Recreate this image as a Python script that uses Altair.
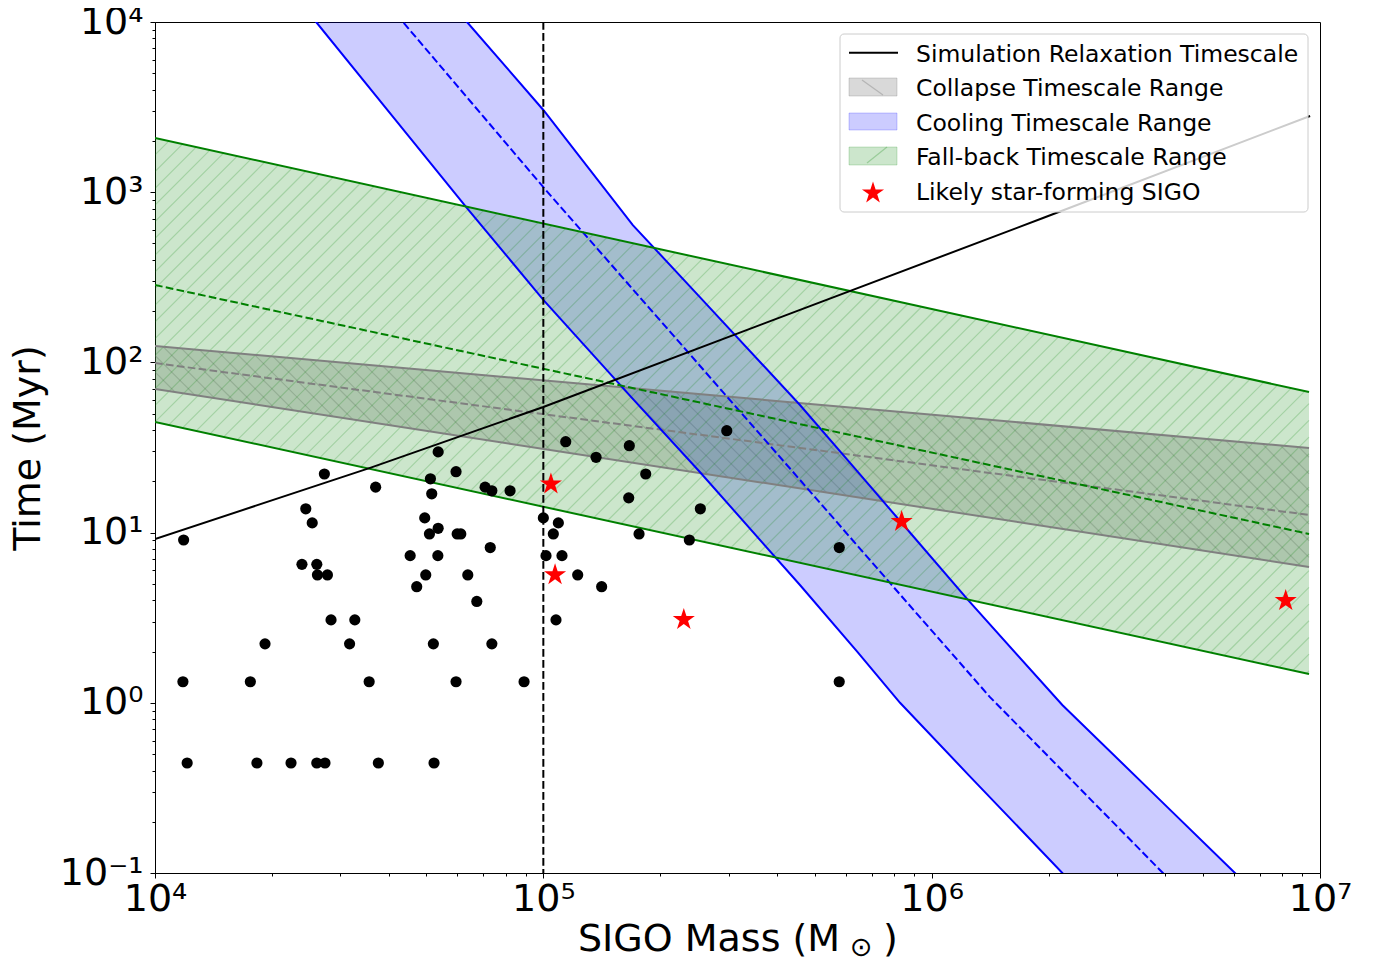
import altair as alt
import numpy as np
import pandas as pd

# ---------------- values ----------------
RELAX_MASS = [1.0e4, 3.58e4, 1.0e5, 1.935e6, 9.43e6]
RELAX_TIME = [9.16, 24.0, 54.7, 705.0, 2805.0]

COLLAPSE_MASS = [1.0e4, 9.37e6]
COLLAPSE_HIGH = [124.8, 31.4]
COLLAPSE_MID = [99.1, 12.7]
COLLAPSE_LOW = [69.8, 6.28]

FALLBACK_MASS = [1.0e4, 9.37e6]
FALLBACK_HIGH = [2080.0, 67.0]
FALLBACK_MID = [285.0, 9.82]
FALLBACK_LOW = [44.7, 1.476]

COOLING_MASS = [1.0e4, 2.6e4, 4.35e4, 6.36e4, 1.0e5, 1.70e5, 2.53e5, 4.58e5,
                6.43e5, 8.29e5, 1.24e6, 2.17e6, 3.87e6, 6.04e6, 9.43e6]
COOLING_LOW = [1.455e5, 1.0e4, 2350.0, 807.0, 233.0, 61.0, 22.7, 4.92,
               2.00, 1.00, 0.380, 0.1, 0.0232, 0.00766, 0.00249]
COOLING_HIGH = [1.396e6, 1.096e5, 27610.0, 1.0e4, 3041.0, 641.0, 242.0, 56.2,
                23.0, 11.7, 4.02, 0.971, 0.269, 0.1, 0.0372]
COOLING_MID_MASS = [1.0e4, 4.35e4, 1.004e5, 4.58e5, 7.81e5, 1.413e6, 3.94e6, 9.43e6]
COOLING_MID = [5.26e5, 1.0e4, 1059.0, 20.4, 5.06, 1.08, 0.1, 0.01315]

SIGO_MASS = [12100, 18300, 22400, 26100, 27400, 37600, 52300,
             11800, 17600, 35600, 59600, 89200, 578000,
             19200, 31700, 52100, 73700,
             28400, 32700, 107800,
             11850, 47200, 67400, 141300, 27300, 24450, 25400,
             23900, 26100, 26200, 27800,
             53600, 59600, 51200, 37000, 51600, 70800, 73700, 82100,
             100000, 49500, 53600, 50900, 60000, 61300, 73000, 45400, 53500, 101600, 49800, 63900,
             114200, 166500, 136700, 296700, 183500, 165900, 253700, 109300, 106100, 176400,
             237700, 111700, 122600,
             578200]
SIGO_TIME = [0.443, 0.443, 0.443, 0.443, 0.443, 0.443, 0.443,
             1.33, 1.33, 1.33, 1.33, 1.33, 1.33,
             2.22, 2.22, 2.22, 2.22,
             3.07, 3.07, 3.07,
             9.05, 4.81, 3.94, 4.81, 22.1, 13.8, 11.4,
             6.51, 6.51, 5.64, 5.64,
             29.8, 22.8, 20.7, 18.5, 16.9, 18.5, 17.6, 17.6,
             12.2, 12.2, 10.6, 9.82, 9.82, 9.82, 8.17, 7.32, 7.32, 7.32, 5.64, 5.64,
             34.2, 32.4, 27.7, 39.7, 22.1, 16.0, 13.8, 11.4, 9.82, 9.82,
             9.05, 7.32, 5.64,
             8.17]

STAR_MASS = [1.046e5, 1.072e5, 2.30e5, 8.37e5, 8.16e6]
STAR_TIME = [19.3, 5.64, 3.08, 11.6, 3.98]

VLINE_MASS = [1.0e5]

X_MAJOR = [1e4, 1e5, 1e6, 1e7]
X_LABELS = ["10⁴", "10⁵", "10⁶", "10⁷"]
Y_MAJOR = [0.1, 1.0, 10.0, 100.0, 1000.0, 10000.0]
Y_LABELS = ["10⁻¹", "10⁰", "10¹", "10²", "10³", "10⁴"]

LEGEND_LABELS = ["Simulation Relaxation Timescale", "Collapse Timescale Range",
                 "Cooling Timescale Range", "Fall-back Timescale Range",
                 "Likely star-forming SIGO"]
X_TITLE = ["SIGO Mass (M", "⊙", ")"]
Y_TITLE = "Time (Myr)"

# ---------------- layout ----------------
W, H = 1165, 851
FONT = "DejaVu Sans"
DASH = [7.7, 3.3]
STAR = ("M0,-1L0.2245,-0.309L0.9511,-0.309L0.3633,0.118L0.5878,0.809L0,0.382"
        "L-0.5878,0.809L-0.3633,0.118L-0.9511,-0.309L-0.2245,-0.309Z")


def minor(majors):
    out = []
    for d in majors[:-1]:
        out += [m * d for m in range(1, 10)]
    return out + [majors[-1]]


def label_expr(vals, labels):
    s = " : ".join(f"datum.value == {v} ? '{l}'" for v, l in zip(vals, labels))
    return s + " : ''"


def tick_size(vals):
    arr = ",".join(str(v) for v in vals)
    return {"condition": {"test": f"indexof([{arr}], datum.value) >= 0", "value": 5}, "value": 3}


xscale = alt.Scale(type="log", domain=[1e4, 1e7], nice=False)
yscale = alt.Scale(type="log", domain=[0.1, 1e4], nice=False)

xaxis = alt.Axis(values=minor(X_MAJOR), labelExpr=label_expr(X_MAJOR, X_LABELS),
                 tickSize=tick_size(X_MAJOR), tickColor="black", tickWidth=1,
                 domainColor="black", domainWidth=1, grid=False, title=None,
                 labelFont=FONT, labelFontSize=38, labelColor="black",
                 labelPadding=2, labelFlush=False, labelOverlap=False, labelBound=False)
yaxis = alt.Axis(values=minor(Y_MAJOR), labelExpr=label_expr(Y_MAJOR, Y_LABELS),
                 tickSize=tick_size(Y_MAJOR), tickColor="black", tickWidth=1,
                 domainColor="black", domainWidth=1, grid=False,
                 title=Y_TITLE, titleFont=FONT, titleFontSize=38, titleFontWeight="normal",
                 titleColor="black", titleAngle=270, titleX=-127, titleY=425.5,
                 titleAlign="center", titleBaseline="middle",
                 labelFont=FONT, labelFontSize=38, labelColor="black",
                 labelPadding=7, labelFlush=False, labelOverlap=False, labelBound=False)


def X(f):
    return alt.X(f, type="quantitative", scale=xscale, axis=xaxis)


def Y(f):
    return alt.Y(f, type="quantitative", scale=yscale, axis=yaxis)


def hatch(xs, lo, hi, spacing, forward):
    """Decorative hatch segments (45 degrees on screen) filling a straight band."""
    lx0, lx1 = np.log10(xs[0]), np.log10(xs[-1])
    ppx, ppy = W / 3.0, H / 5.0
    umax = (lx1 - lx0) * ppx

    def v(val):
        return (np.log10(val) + 1.0) * ppy

    vl0, vl1, vh0, vh1 = v(lo[0]), v(lo[-1]), v(hi[0]), v(hi[-1])
    ml, mh = (vl1 - vl0) / umax, (vh1 - vh0) / umax
    rows = []
    if forward:
        cmin, cmax = min(vl0, vl1 - umax), max(vh0, vh1 - umax)
    else:
        cmin, cmax = min(vl0, vl1 + umax), max(vh0, vh1 + umax)
    c = np.floor(cmin / spacing) * spacing
    while c <= cmax + spacing:
        if forward:
            ua, ub = (vl0 - c) / (1 - ml), (vh0 - c) / (1 - mh)
        else:
            ua, ub = (c - vl0) / (1 + ml), (c - vh0) / (1 + mh)
        a, b = max(0.0, min(ua, ub)), min(umax, max(ua, ub))
        if b > a:
            if forward:
                va, vb = a + c, b + c
            else:
                va, vb = c - a, c - b
            rows.append({"x1": 10 ** (lx0 + a / ppx), "y1": 10 ** (va / ppy - 1),
                         "x2": 10 ** (lx0 + b / ppx), "y2": 10 ** (vb / ppy - 1)})
        c += spacing
    return pd.DataFrame(rows)


def band_df(xs, lo, hi):
    return pd.DataFrame({"m": xs, "lo": lo, "hi": hi})


def line(xs, ys, color, dash=None, width=2):
    kw = dict(color=color, strokeWidth=width, clip=True)
    if dash:
        kw["strokeDash"] = dash
    return alt.Chart(pd.DataFrame({"m": xs, "t": ys})).mark_line(**kw).encode(
        x=X("m"), y=Y("t"), order=alt.Order("m:Q"))


def hatch_layer(df, color, opacity):
    return alt.Chart(df).mark_rule(color=color, opacity=opacity, strokeWidth=1.2, clip=True).encode(
        x=X("x1"), y=Y("y1"), x2=alt.X2("x2"), y2=alt.Y2("y2"))


layers = []
# collapse band (gray)
layers.append(alt.Chart(band_df(COLLAPSE_MASS, COLLAPSE_LOW, COLLAPSE_HIGH))
              .mark_area(color="gray", opacity=0.3, clip=True)
              .encode(x=X("m"), y=Y("lo"), y2=alt.Y2("hi")))
layers.append(hatch_layer(hatch(COLLAPSE_MASS, COLLAPSE_LOW, COLLAPSE_HIGH, 16.7, False), "gray", 0.35))
# cooling band (blue)
layers.append(alt.Chart(band_df(COOLING_MASS, COOLING_LOW, COOLING_HIGH))
              .mark_area(color="blue", opacity=0.2, clip=True)
              .encode(x=X("m"), y=Y("lo"), y2=alt.Y2("hi")))
# fall-back band (green)
layers.append(alt.Chart(band_df(FALLBACK_MASS, FALLBACK_LOW, FALLBACK_HIGH))
              .mark_area(color="green", opacity=0.2, clip=True)
              .encode(x=X("m"), y=Y("lo"), y2=alt.Y2("hi")))
layers.append(hatch_layer(hatch(FALLBACK_MASS, FALLBACK_LOW, FALLBACK_HIGH, 16.7, True), "green", 0.2))

# edges and dashed centres
layers += [line(COLLAPSE_MASS, COLLAPSE_HIGH, "gray"), line(COLLAPSE_MASS, COLLAPSE_LOW, "gray"),
           line(COLLAPSE_MASS, COLLAPSE_MID, "gray", DASH)]
layers += [line(COOLING_MASS, COOLING_HIGH, "blue"), line(COOLING_MASS, COOLING_LOW, "blue"),
           line(COOLING_MID_MASS, COOLING_MID, "blue", DASH)]
layers += [line(FALLBACK_MASS, FALLBACK_HIGH, "green"), line(FALLBACK_MASS, FALLBACK_LOW, "green"),
           line(FALLBACK_MASS, FALLBACK_MID, "green", DASH)]
layers.append(line(RELAX_MASS, RELAX_TIME, "black"))
layers.append(alt.Chart(pd.DataFrame({"m": VLINE_MASS})).mark_rule(
    color="black", strokeWidth=2, strokeDash=DASH).encode(x=X("m")))

# points
layers.append(alt.Chart(pd.DataFrame({"m": SIGO_MASS, "t": SIGO_TIME})).mark_circle(
    size=125, color="black", opacity=1).encode(x=X("m"), y=Y("t")))
layers.append(alt.Chart(pd.DataFrame({"m": STAR_MASS, "t": STAR_TIME})).mark_point(
    shape=STAR, filled=True, color="red", size=540, opacity=1).encode(x=X("m"), y=Y("t")))

# ---------------- legend (drawn by hand, in plot pixel coordinates) ----------------
one = pd.DataFrame({"a": [0]})


def rect(x1, x2, y1, y2, **kw):
    return alt.Chart(one).mark_rect(**kw).encode(
        x=alt.value(x1), x2=alt.value(x2), y=alt.value(y1), y2=alt.value(y2))


def seg(x1, x2, y1, y2, **kw):
    return alt.Chart(one).mark_rule(**kw).encode(
        x=alt.value(x1), x2=alt.value(x2), y=alt.value(y1), y2=alt.value(y2))


def txt(t, x, y, size, **kw):
    return alt.Chart(one).mark_text(text=t, font=FONT, fontSize=size, color="black",
                                    align="left", baseline="alphabetic", **kw).encode(
        x=alt.value(x), y=alt.value(y))


layers.append(rect(685, 1153, 12, 190, fill="white", fillOpacity=0.8, stroke="#cccccc",
                   strokeWidth=1, cornerRadius=4))
layers.append(seg(694, 743, 30.7, 30.7, color="black", strokeWidth=2))
layers.append(rect(694, 742, 56, 74, fill="gray", fillOpacity=0.3, stroke="gray", strokeOpacity=0.3))
layers.append(seg(707, 728, 58, 73, color="gray", opacity=0.4, strokeWidth=1.2))
layers.append(rect(694, 742, 91, 108, fill="blue", fillOpacity=0.2, stroke="blue", strokeOpacity=0.2))
layers.append(rect(694, 742, 125, 143, fill="green", fillOpacity=0.2, stroke="green", strokeOpacity=0.2))
layers.append(seg(712, 732, 141, 125, color="green", opacity=0.25, strokeWidth=1.2))
layers.append(alt.Chart(one).mark_point(shape=STAR, filled=True, color="red", size=540, opacity=1)
              .encode(x=alt.value(718), y=alt.value(171)))
for i, lab in enumerate(LEGEND_LABELS):
    layers.append(txt(lab, 761, 39.7 + 34.5 * i, 23.5))

# x-axis title with subscript sun symbol
layers.append(txt(X_TITLE[0], 423, 929, 38))
layers.append(txt(X_TITLE[1], 695, 934, 27))
layers.append(txt(X_TITLE[2], 728, 929, 38))

chart = alt.layer(*layers).properties(
    width=W, height=H,
    padding={"left": 147, "top": 14, "right": 45, "bottom": 84},
    autosize=alt.AutoSizeParams(type="none"),
).configure_view(stroke="black", strokeWidth=1)

chart.save("out.html", embed_options={"renderer": "svg", "actions": False})
